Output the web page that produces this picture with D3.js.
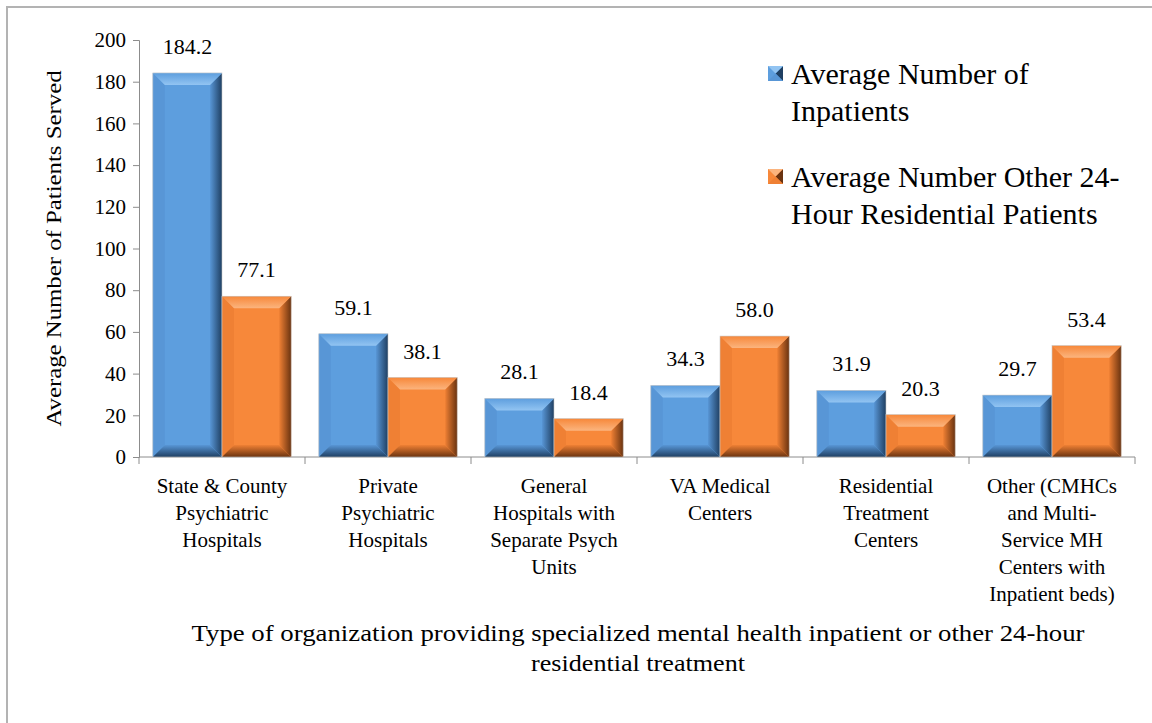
<!DOCTYPE html>
<html>
<head>
<meta charset="utf-8">
<script src="https://cdn.jsdelivr.net/npm/d3@7"></script>
<style>
  text, tspan { font-family: 'Liberation Serif', 'Times New Roman', Tinos, serif !important; }
</style>
</head>
<body style="margin:0">
<script>
// data
const categories = [
  ["State & County", "Psychiatric", "Hospitals"],
  ["Private", "Psychiatric", "Hospitals"],
  ["General", "Hospitals with", "Separate Psych", "Units"],
  ["VA Medical", "Centers"],
  ["Residential", "Treatment", "Centers"],
  ["Other (CMHCs", "and Multi-", "Service MH", "Centers with", "Inpatient beds)"]
];
const inpatients = [184.2, 59.1, 28.1, 34.3, 31.9, 29.7];
const other24 = [77.1, 38.1, 18.4, 58.0, 20.3, 53.4];
const seriesNames = [
  ["Average Number of", "Inpatients"],
  ["Average Number Other 24-", "Hour Residential Patients"]
];
const yTicks = [0, 20, 40, 60, 80, 100, 120, 140, 160, 180, 200];
const xTitle = [
  "Type of organization providing specialized mental health inpatient or other 24-hour",
  "residential treatment"
];

const width = 1152, height = 723;
const plotL = 139, plotR = 1135, plotT = 40, plotB = 457;
const serif = "'Liberation Serif'";

const colors = [
  {base: "#5d9ede", light: "#92c4f2", side: "#5896d6", dark: "#1f3f62"},
  {base: "#f7883a", light: "#fbb47e", side: "#ef8034", dark: "#6a3310"}
];

const svg = d3.select("body").append("svg")
  .attr("width", width).attr("height", height)
  .attr("font-family", "Liberation Serif");

// chart frame
svg.append("rect")
  .attr("x", 7).attr("y", 7).attr("width", 1170).attr("height", 740)
  .attr("fill", "#fff").attr("stroke", "#b3b3b3").attr("stroke-width", 2);

const defs = svg.append("defs");
colors.forEach((c, i) => {
  const gr = defs.append("linearGradient").attr("id", "right" + i)
    .attr("x1", 0).attr("x2", 1).attr("y1", 0).attr("y2", 0);
  gr.append("stop").attr("offset", 0).attr("stop-color", c.side);
  gr.append("stop").attr("offset", 1).attr("stop-color", c.dark);
  const gt = defs.append("linearGradient").attr("id", "top" + i)
    .attr("x1", 0).attr("x2", 0).attr("y1", 0).attr("y2", 1);
  gt.append("stop").attr("offset", 0).attr("stop-color", c.base);
  gt.append("stop").attr("offset", 1).attr("stop-color", c.light);
  const gb = defs.append("linearGradient").attr("id", "bot" + i)
    .attr("x1", 0).attr("x2", 0).attr("y1", 0).attr("y2", 1);
  gb.append("stop").attr("offset", 0).attr("stop-color", c.side);
  gb.append("stop").attr("offset", 1).attr("stop-color", c.dark);
});

const x0 = d3.scaleBand().domain(d3.range(categories.length)).range([plotL, plotR]);
const x1 = d3.scaleBand().domain([0, 1]).range([0, x0.bandwidth()]).paddingOuter(0.2);
const y = d3.scaleLinear().domain([0, 200]).range([plotB, plotT]);

// y axis
const yAxis = svg.append("g").attr("transform", `translate(${plotL},0)`)
  .call(d3.axisLeft(y).tickValues(yTicks).tickSize(6).tickSizeOuter(6));
yAxis.attr("font-family", "Liberation Serif").attr("font-size", 21);
yAxis.select(".domain").attr("stroke", "#8c8c8c");
yAxis.selectAll(".tick line").attr("stroke", "#8c8c8c");
yAxis.selectAll(".tick text").attr("fill", "#000").attr("x", -13)
  .style("font-family", serif);

// x axis line and boundary ticks
svg.append("line").attr("x1", plotL).attr("x2", plotR).attr("y1", plotB).attr("y2", plotB)
  .attr("stroke", "#8c8c8c");
svg.selectAll(".xt").data(d3.range(categories.length + 1)).enter().append("line")
  .attr("x1", i => plotL + i * x0.step()).attr("x2", i => plotL + i * x0.step())
  .attr("y1", plotB).attr("y2", plotB + 7).attr("stroke", "#8c8c8c");

// bars
const data = [];
categories.forEach((c, i) => {
  [inpatients[i], other24[i]].forEach((v, s) => data.push({i, s, v}));
});

const bars = svg.selectAll(".bar").data(data).enter().append("g");
bars.each(function(d) {
  const g = d3.select(this);
  const bx = x0(d.i) + x1(d.s), bw = x1.bandwidth();
  const by = y(d.v), bh = plotB - by;
  const b = Math.min(12, bh / 2, bw / 2);
  const c = colors[d.s];
  g.append("rect").attr("x", bx).attr("y", by).attr("width", bw).attr("height", bh)
    .attr("fill", c.base);
  const poly = (pts, fill) => g.append("polygon")
    .attr("points", pts.map(p => p.join(",")).join(" ")).attr("fill", fill);
  poly([[bx, by], [bx + b, by + b], [bx + b, by + bh - b], [bx, by + bh]], c.side);
  poly([[bx + bw, by], [bx + bw, by + bh], [bx + bw - b, by + bh - b], [bx + bw - b, by + b]], `url(#right${d.s})`);
  poly([[bx, by + bh], [bx + bw, by + bh], [bx + bw - b, by + bh - b], [bx + b, by + bh - b]], `url(#bot${d.s})`);
  poly([[bx, by], [bx + bw, by], [bx + bw - b, by + b], [bx + b, by + b]], `url(#top${d.s})`);
  g.append("rect").attr("x", bx).attr("y", by).attr("width", bw).attr("height", bh)
    .attr("fill", "none").attr("stroke", "#c8c8c8").attr("stroke-width", 0.6);
});

// value labels
svg.selectAll(".val").data(data).enter().append("text")
  .attr("x", d => x0(d.i) + x1(d.s) + x1.bandwidth() / 2)
  .attr("y", d => y(d.v) - 19)
  .attr("text-anchor", "middle").attr("font-size", 22)
  .attr("font-family", "Liberation Serif")
  .text(d => d.v.toFixed(1));

// category labels
const catLabels = svg.selectAll(".cat").data(categories).enter().append("text")
  .attr("text-anchor", "middle").attr("font-size", 21)
  .attr("font-family", "Liberation Serif");
catLabels.each(function(lines, i) {
  d3.select(this).selectAll("tspan").data(lines).enter().append("tspan")
    .attr("x", x0(i) + x0.bandwidth() / 2)
    .attr("y", (l, j) => 493 + j * 27)
    .text(l => l);
});

// axis titles
svg.append("text")
  .attr("transform", `translate(61,${(plotT + plotB) / 2}) rotate(-90)`)
  .attr("text-anchor", "middle").attr("font-size", 22)
  .attr("font-family", "Liberation Serif")
  .attr("textLength", 356).attr("lengthAdjust", "spacingAndGlyphs")
  .text("Average Number of Patients Served");

const titleLen = [893, 214];
svg.append("g").selectAll("text").data(xTitle).enter().append("text")
  .attr("text-anchor", "middle").attr("font-size", 23)
  .attr("font-family", "Liberation Serif")
  .attr("textLength", (l, j) => titleLen[j]).attr("lengthAdjust", "spacingAndGlyphs")
  .attr("x", 638).attr("y", (l, j) => 641 + j * 30).text(l => l);

// legend
const leg = svg.selectAll(".leg").data(seriesNames).enter().append("g")
  .attr("transform", (d, i) => `translate(768,${i * 103})`);
leg.each(function(lines, i) {
  const g = d3.select(this), c = colors[i];
  const s = 15, sy = 66;
  g.append("rect").attr("x", 0).attr("y", sy).attr("width", s).attr("height", s).attr("fill", c.base);
  g.append("polygon").attr("points", `${s},${sy} ${s},${sy + s} ${s / 2},${sy + s / 2}`).attr("fill", c.dark);
  g.append("polygon").attr("points", `0,${sy + s} ${s},${sy + s} ${s / 2},${sy + s / 2}`).attr("fill", c.side);
  g.append("polygon").attr("points", `0,${sy} ${s},${sy} ${s / 2},${sy + s / 2}`).attr("fill", c.light);
  g.selectAll("text").data(lines).enter().append("text")
    .attr("font-size", 30).attr("font-family", "Liberation Serif")
    .attr("x", 23).attr("y", (l, j) => 84 + j * 37).text(l => l);
});
</script>
</body>
</html>
